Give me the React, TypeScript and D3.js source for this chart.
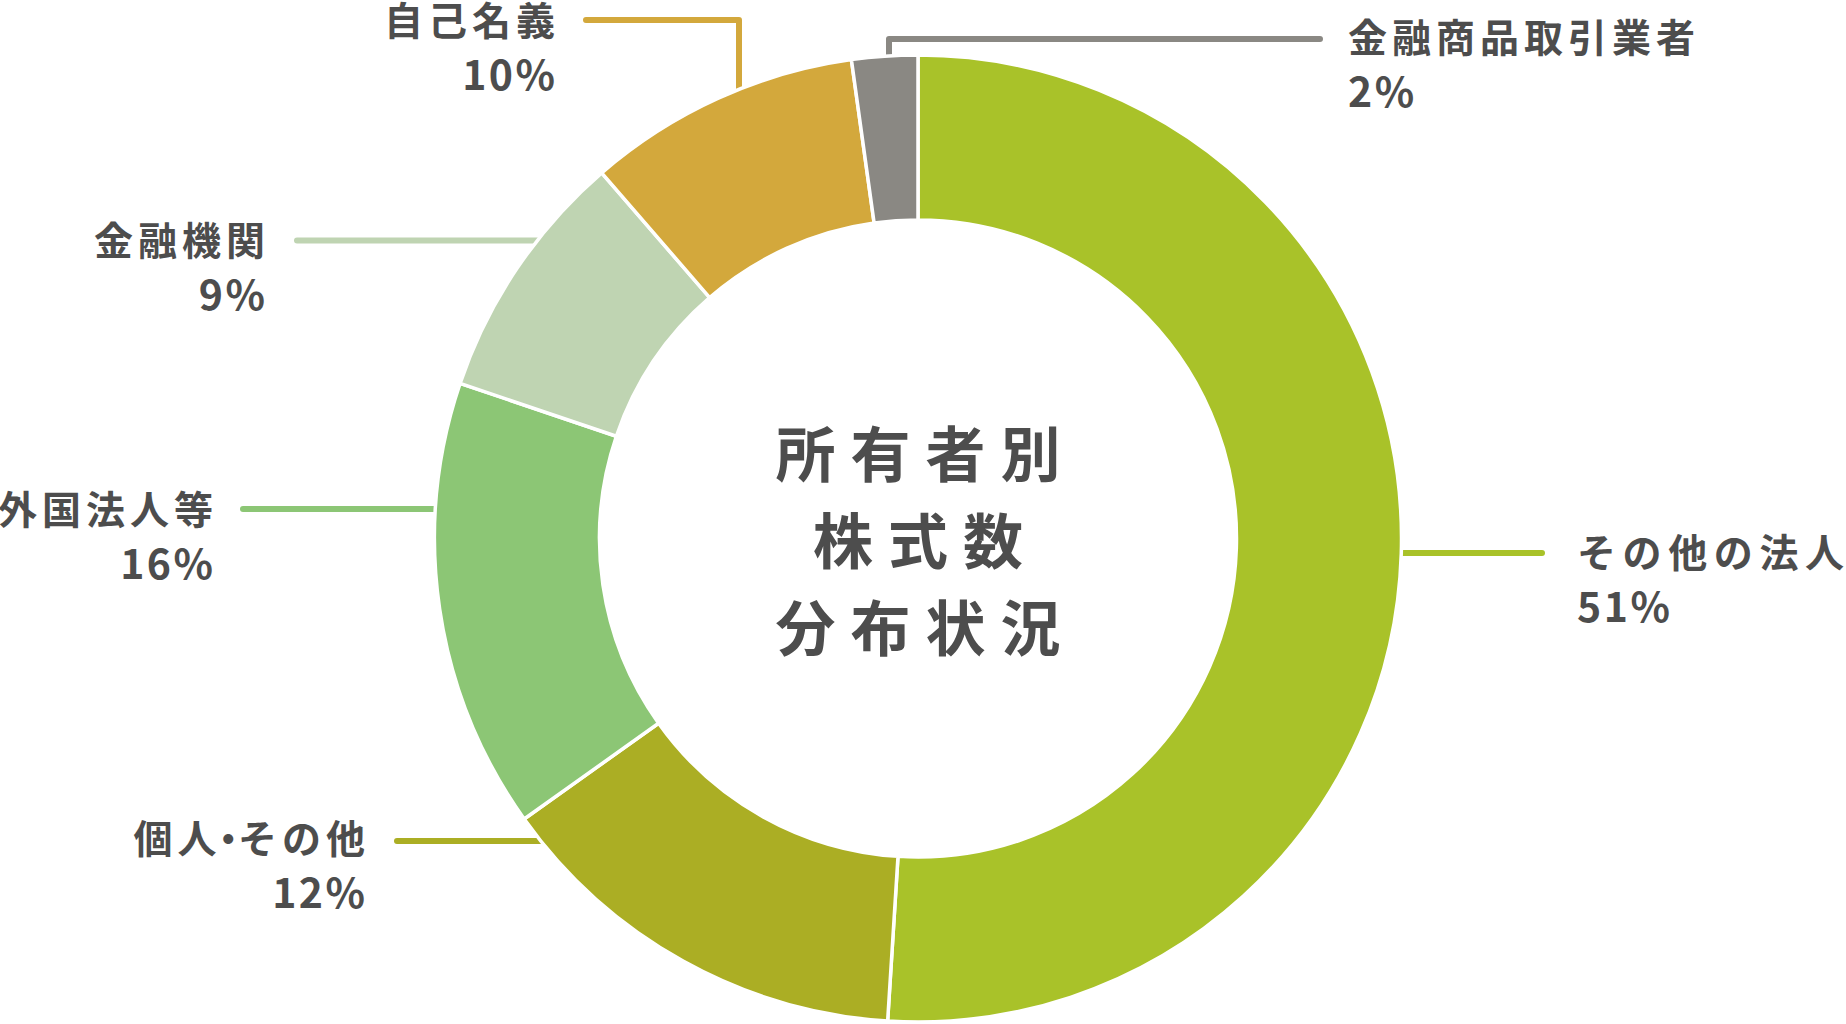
import { useEffect, useRef } from 'react';
import * as d3 from 'd3';

// slice shares as drawn (the printed labels are rounded figures)
const CATEGORIES = ['その他の法人', '個人・その他', '外国法人等', '金融機関', '自己名義', '金融商品取引業者'];
const SHARES = [51.0, 14.15, 15.05, 8.45, 9.15, 2.2];
const PERCENT_LABELS = ['51%', '12%', '16%', '9%', '10%', '2%'];
const COLORS = ['#a9c229', '#abae24', '#8cc675', '#bfd4b2', '#d3a83c', '#8a8883'];
const TITLE_LINES = ['所有者別', '株式数', '分布状況'];

const WIDTH = 1846;
const HEIGHT = 1024;
const CX = 918;
const CY = 538.5;
const OUTER = 483.5;
const INNER = 318.5;
const TEXT_COLOR = '#4d4d4d';
const FONT = '"Noto Sans CJK JP", "Noto Sans", sans-serif';

type LabelLayout = {
  side: 'left' | 'right';
  x: number;        // ink edge of the text block
  baseline: number; // baseline of the category line
  lineY: number;    // y of the horizontal leader
  lineStart: number;
  elbowX?: number;  // vertical drop into the ring
  ls?: number;
};

const LAYOUT: LabelLayout[] = [
  { side: 'right', x: 1577, baseline: 567, lineY: 553, lineStart: 1542, ls: 6.6 },
  { side: 'left', x: 365, baseline: 853, lineY: 841, lineStart: 397 },
  { side: 'left', x: 213, baseline: 524, lineY: 509, lineStart: 243 },
  { side: 'left', x: 265, baseline: 255, lineY: 240.5, lineStart: 297 },
  { side: 'left', x: 555, baseline: 35, lineY: 20, lineStart: 586, elbowX: 739 },
  { side: 'right', x: 1348, baseline: 52, lineY: 39, lineStart: 1320, elbowX: 889 },
];

export default function App() {
  const svgRef = useRef<SVGSVGElement>(null);

  useEffect(() => {
    if (!svgRef.current) return;
    const svg = d3.select(svgRef.current);
    svg.selectAll('*').remove();

    const pie = d3.pie<number>().sort(null).value(d => d).startAngle(0).endAngle(2 * Math.PI);
    const arcs = pie(SHARES);
    const arc = d3.arc<d3.PieArcDatum<number>>().innerRadius(INNER).outerRadius(OUTER);
    const rMid = (INNER + OUTER) / 2;

    // leader lines sit under the ring
    const leaders = svg.append('g')
      .attr('fill', 'none')
      .attr('stroke-width', 6)
      .attr('stroke-linecap', 'round')
      .attr('stroke-linejoin', 'round');

    LAYOUT.forEach((l, i) => {
      const pts: [number, number][] = [[l.lineStart, l.lineY]];
      if (l.elbowX !== undefined) {
        const dx = l.elbowX - CX;
        pts.push([l.elbowX, l.lineY]);
        pts.push([l.elbowX, CY - Math.sqrt(rMid * rMid - dx * dx)]);
      } else {
        const dy = l.lineY - CY;
        const half = Math.sqrt(rMid * rMid - dy * dy);
        pts.push([l.side === 'right' ? CX + half : CX - half, l.lineY]);
      }
      leaders.append('path')
        .attr('d', d3.line()(pts))
        .attr('stroke', COLORS[i]);
    });

    svg.append('g')
      .attr('transform', `translate(${CX},${CY})`)
      .selectAll('path')
      .data(arcs)
      .join('path')
      .attr('d', arc)
      .attr('fill', (_, i) => COLORS[i])
      .attr('stroke', '#ffffff')
      .attr('stroke-width', 3.5)
      .attr('stroke-linejoin', 'miter');

    const labels = svg.append('g')
      .attr('font-family', FONT)
      .attr('font-weight', 700)
      .attr('fill', TEXT_COLOR);

    const PLS = 2.5;
    LAYOUT.forEach((l, i) => {
      const ls = l.ls ?? 5;
      const anchor = l.side === 'left' ? 'end' : 'start';
      // trailing letter-spacing pushes end-anchored ink to the left
      const label = labels.append('text')
        .attr('x', l.side === 'left' ? l.x + ls : l.x)
        .attr('y', l.baseline)
        .attr('text-anchor', anchor)
        .attr('font-size', 39)
        .attr('letter-spacing', ls);
      // the middle dot is set half width in the reference
      CATEGORIES[i].split(/(・)/).filter(Boolean).forEach(p => {
        const t = label.append('tspan').text(p);
        if (p === '・') {
          t.style('font-feature-settings', '"halt" 1').attr('dx', -3).attr('letter-spacing', 0);
        }
      });
      labels.append('text')
        .attr('x', l.side === 'left' ? l.x + PLS : l.x)
        .attr('y', l.baseline + 55)
        .attr('text-anchor', anchor)
        .attr('font-size', 41)
        .attr('letter-spacing', PLS)
        .text(PERCENT_LABELS[i]);
    });

    const TLS = 15;
    svg.append('g')
      .attr('font-family', FONT)
      .attr('font-weight', 700)
      .attr('fill', TEXT_COLOR)
      .attr('font-size', 60)
      .attr('letter-spacing', TLS)
      .attr('text-anchor', 'middle')
      .selectAll('text')
      .data(TITLE_LINES)
      .join('text')
      .attr('x', CX + TLS / 2)
      .attr('y', (_, i) => 477 + i * 87)
      .text(d => d);
  }, []);

  return (
    <div style={{ position: 'fixed', left: 0, top: 0, width: WIDTH, height: HEIGHT, background: '#ffffff' }}>
      <svg ref={svgRef} width={WIDTH} height={HEIGHT} viewBox={`0 0 ${WIDTH} ${HEIGHT}`} />
    </div>
  );
}
